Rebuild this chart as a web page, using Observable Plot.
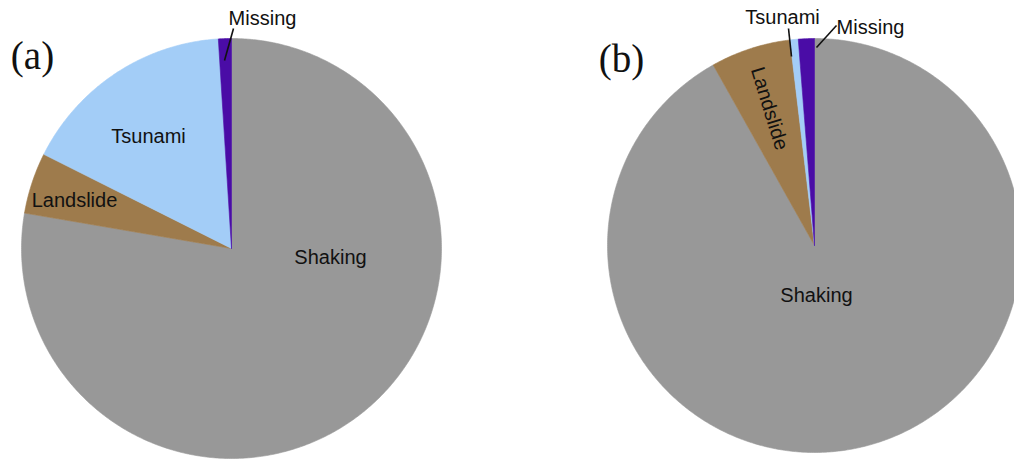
<!DOCTYPE html>
<html><head><meta charset="utf-8">
<script src="https://cdn.jsdelivr.net/npm/d3@7"></script>
<script src="https://cdn.jsdelivr.net/npm/@observablehq/plot@0.6"></script>
<style>
html,body{margin:0;padding:0;background:#fff;}
#wrap{position:relative;width:1014px;height:459px;overflow:hidden;}
#wrap svg{position:absolute;left:0;top:0;background:transparent;}
</style></head><body>
<div id="wrap"></div>
<script>
// ---- data ----
const categories = ["Shaking", "Landslide", "Tsunami", "Missing"];
const valuesA = [77.7, 4.7, 16.6, 1.0];   // panel (a), percent
const valuesB = [91.9, 6.25, 0.64, 1.25]; // panel (b), percent
const panelLabels = ["(a)", "(b)"];

// ---- styles / layout ----
const colors = {Shaking: "#989898", Landslide: "#9e7b4c", Tsunami: "#a3cdf7", Missing: "#4a0ca6"};
const W = 1014, H = 459;
const layouts = [
  {cx: 231, cy: 248, r: 210, values: valuesA, panel: panelLabels[0], panelPos: [32, 56],
   labels: [
     {name: "Shaking", at: [330, 257]},
     {name: "Landslide", at: [74, 200]},
     {name: "Tsunami", at: [148, 136]},
     {name: "Missing", at: [262, 18]}
   ],
   leaders: [{from: [233, 28], to: [224, 60]}]},
  {cx: 814, cy: 245, r: 207, values: valuesB, panel: panelLabels[1], panelPos: [621, 59],
   labels: [
     {name: "Shaking", at: [816, 295]},
     {name: "Landslide", at: [769, 108], rotate: 73},
     {name: "Tsunami", at: [782, 17]},
     {name: "Missing", at: [870, 27]}
   ],
   leaders: [{from: [788, 28], to: [791, 56]}, {from: [836, 25], to: [816, 47]}]}
];

const wrap = document.getElementById("wrap");

for (const L of layouts) {
  const total = d3.sum(L.values);
  // wedges as polygons in unit-radius coordinates, clockwise from 12 o'clock
  let acc = 0;
  const wedges = categories.map((name, i) => {
    const a0 = acc / total * 2 * Math.PI;
    acc += L.values[i];
    const a1 = acc / total * 2 * Math.PI;
    const n = Math.max(2, Math.ceil((a1 - a0) / (Math.PI / 360)));
    const pts = [{name, x: 0, y: 0}];
    for (let k = 0; k <= n; k++) {
      const a = a0 + (a1 - a0) * k / n;
      pts.push({name, x: Math.sin(a), y: Math.cos(a)});
    }
    pts.push({name, x: 0, y: 0});
    return pts;
  });
  const toU = ([px, py]) => [(px - L.cx) / L.r, -(py - L.cy) / L.r];
  const labelData = L.labels.map(d => {
    const [x, y] = toU(d.at);
    return {name: d.name, x, y, rotate: d.rotate || 0};
  });
  const leaderData = L.leaders.map(d => {
    const [x1, y1] = toU(d.from), [x2, y2] = toU(d.to);
    return {x1, y1, x2, y2};
  });
  const [px, py] = toU(L.panelPos);

  const chart = Plot.plot({
    width: W, height: H, margin: 0,
    style: {background: "transparent", overflow: "visible"},
    x: {domain: [-L.cx / L.r, (W - L.cx) / L.r], axis: null},
    y: {domain: [-(H - L.cy) / L.r, L.cy / L.r], axis: null},
    marks: [
      ...wedges.map(pts => Plot.line(pts, {
        x: "x", y: "y", curve: "linear",
        fill: colors[pts[0].name], stroke: colors[pts[0].name], strokeWidth: 0.6
      })),
      Plot.link(leaderData, {x1: "x1", y1: "y1", x2: "x2", y2: "y2", stroke: "#111", strokeWidth: 1.6}),
      Plot.text(labelData, {
        x: "x", y: "y", text: "name", rotate: "rotate",
        fontFamily: "'Liberation Sans', Arial, Helvetica, sans-serif",
        fontSize: 20, fill: "#111"
      }),
      Plot.text([L.panel], {
        x: [px], y: [py], text: d => d,
        fontFamily: "'Liberation Serif', 'Times New Roman', serif",
        fontSize: 39, fill: "#111"
      })
    ]
  });
  wrap.appendChild(chart);
}
</script>
</body></html>
